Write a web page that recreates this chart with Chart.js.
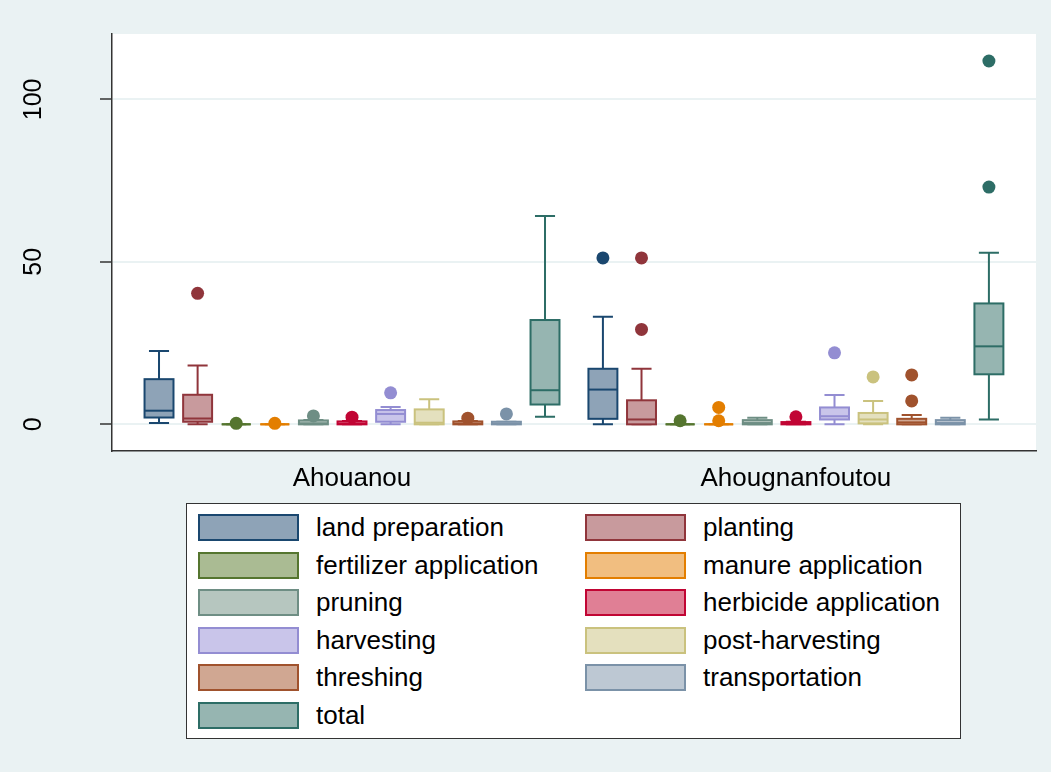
<!DOCTYPE html>
<html>
<head>
<meta charset="utf-8">
<script src="https://cdn.jsdelivr.net/npm/chart.js@4/dist/chart.umd.min.js"></script>
<style>
  html, body { margin: 0; padding: 0; background: #eaf2f3; }
  #wrap { position: relative; width: 1051px; height: 772px; }
  #legend {
    position: absolute; left: 186px; top: 503px; width: 775px; height: 236px;
    box-sizing: border-box; background: #fff; border: 1.5px solid #333;
    font-family: 'Liberation Sans', Arial, sans-serif; font-size: 26px; color: #000;
  }
  .item { position: absolute; height: 27px; white-space: nowrap; }
  .swatch { position: absolute; left: 0; top: 0; width: 101px; height: 27px; box-sizing: border-box; border: 2px solid; }
  .label { position: absolute; left: 118px; top: -1px; line-height: 29px; }
</style>
</head>
<body>
<div id="wrap">
  <canvas id="boxChart"></canvas>
  <div id="legend"></div>
</div>
<script>
// categories
const groups = ['Ahouanou', 'Ahougnanfoutou'];
const series = ['land preparation', 'planting', 'fertilizer application', 'manure application',
  'pruning', 'herbicide application', 'harvesting', 'post-harvesting', 'threshing',
  'transportation', 'total'];

// box statistics, Ahouanou
const ahouanouLow    = [0.4, 0,   0, 0, 0,   0,   0,   0,   0,   0,   2.3];
const ahouanouQ1     = [2.1, 0.8, 0, 0, 0,   0,   0.8, 0,   0,   0,   6.1];
const ahouanouMedian = [4.2, 1.8, 0, 0, 0.3, 0.2, 3.2, 0.5, 0.2, 0.2, 10.5];
const ahouanouQ3     = [13.9, 9.1, 0, 0, 1.2, 0.9, 4.4, 4.6, 0.9, 0.8, 32.1];
const ahouanouHigh   = [22.6, 18.1, 0, 0, 1.3, 1.0, 5.3, 7.7, 1.0, 0.8, 64.1];
const ahouanouOutliers = [[], [40.3], [0.3], [0.3], [2.6], [2.2], [9.7], [], [1.9], [3.2], []];

// box statistics, Ahougnanfoutou
const ahougLow    = [0,    0,    0, 0, 0,   0,   0,   0,   0,   0,   1.5];
const ahougQ1     = [1.7,  0,    0, 0, 0,   0,   1.5, 0.3, 0,   0,   15.4];
const ahougMedian = [10.7, 1.5,  0, 0, 0.4, 0.2, 2.5, 1.5, 0.6, 0.4, 24.0];
const ahougQ3     = [17.1, 7.4,  0, 0, 1.3, 0.7, 5.2, 3.5, 1.7, 1.3, 37.2];
const ahougHigh   = [33.1, 17.1, 0, 0, 2.0, 0.8, 9.0, 7.2, 2.9, 2.0, 52.8];
const ahougOutliers = [[51.2], [51.2, 29.2], [1.1], [5.2, 1.1], [], [2.3], [22.0], [14.6], [15.2, 7.2], [], [111.8, 73.0]];

const yTicks = [0, 50, 100];

// colours (Stata s2color)
const lineColors = ['#1a476f', '#90353b', '#55752f', '#e37e00', '#6e8e84', '#c10534',
  '#938dd2', '#cac27e', '#a0522d', '#7b92a8', '#2d6d66'];
const fillColors = ['#8ea3b7', '#c89a9d', '#aabb93', '#f1be80', '#b6c6bf', '#e07f95',
  '#c9c5ea', '#e4e0be', '#d0a792', '#bdc8d3', '#96b5b1'];

const stats = [
  { low: ahouanouLow, q1: ahouanouQ1, med: ahouanouMedian, q3: ahouanouQ3, high: ahouanouHigh, out: ahouanouOutliers },
  { low: ahougLow, q1: ahougQ1, med: ahougMedian, q3: ahougQ3, high: ahougHigh, out: ahougOutliers }
];

const GROUP_STEP = 11.5;   // x units between the first boxes of the two groups
const BOX_HALF = 0.375;
const CAP_HALF = 0.26;
const xPos = (g, s) => g * GROUP_STEP + s;

// outlier points, one dataset per series
const datasets = series.map((name, s) => ({
  label: name,
  data: stats.flatMap((st, g) => st.out[s].map(v => ({ x: xPos(g, s), y: v }))),
  backgroundColor: lineColors[s],
  borderWidth: 0,
  pointRadius: 6.5,
  pointHoverRadius: 6.5
}));

const plotBackground = {
  id: 'plotBackground',
  beforeDraw(chart) {
    const { ctx, chartArea: a } = chart;
    ctx.save();
    ctx.fillStyle = '#ffffff';
    ctx.fillRect(a.left, a.top, a.right - a.left, a.bottom - a.top);
    ctx.restore();
  }
};

const boxes = {
  id: 'boxes',
  beforeDatasetsDraw(chart) {
    const { ctx, scales: { x, y } } = chart;
    ctx.save();
    ctx.lineWidth = 2;
    stats.forEach((st, g) => {
      series.forEach((name, s) => {
        const c = xPos(g, s);
        const cx = x.getPixelForValue(c);
        const bl = x.getPixelForValue(c - BOX_HALF), br = x.getPixelForValue(c + BOX_HALF);
        const cl = x.getPixelForValue(c - CAP_HALF), cr = x.getPixelForValue(c + CAP_HALF);
        const yLow = y.getPixelForValue(st.low[s]), yHigh = y.getPixelForValue(st.high[s]);
        const yQ1 = y.getPixelForValue(st.q1[s]), yQ3 = y.getPixelForValue(st.q3[s]);
        const yMed = y.getPixelForValue(st.med[s]);
        ctx.strokeStyle = lineColors[s];
        // whiskers and caps
        ctx.beginPath();
        ctx.moveTo(cx, yHigh); ctx.lineTo(cx, yQ3);
        ctx.moveTo(cx, yQ1); ctx.lineTo(cx, yLow);
        ctx.moveTo(cl, yHigh); ctx.lineTo(cr, yHigh);
        ctx.moveTo(cl, yLow); ctx.lineTo(cr, yLow);
        ctx.stroke();
        // box
        ctx.fillStyle = fillColors[s];
        ctx.fillRect(bl, yQ3, br - bl, yQ1 - yQ3);
        ctx.strokeRect(bl, yQ3, br - bl, yQ1 - yQ3);
        // median
        ctx.beginPath();
        ctx.moveTo(bl, yMed); ctx.lineTo(br, yMed);
        ctx.stroke();
      });
    });
    ctx.restore();
  }
};

const font = { family: "'Liberation Sans', Arial, sans-serif" };

new Chart(document.getElementById('boxChart'), {
  type: 'scatter',
  data: { datasets },
  options: {
    responsive: true,
    maintainAspectRatio: false,
    animation: false,
    layout: { padding: { left: 0, top: 34, right: 15, bottom: 271 } },
    plugins: {
      legend: { display: false },
      tooltip: { enabled: false }
    },
    scales: {
      x: {
        type: 'linear',
        min: -1.218,
        max: 22.72,
        afterBuildTicks: s => { s.ticks = groups.map((g, i) => ({ value: 5 + i * GROUP_STEP })); },
        afterFit: s => { s.height = 50; s.paddingLeft = 0; s.paddingRight = 0; },
        grid: { display: false, drawTicks: false },
        border: { display: true, color: '#333', width: 1.5 },
        ticks: {
          padding: 12,
          color: '#000',
          font: { ...font, size: 26 },
          maxRotation: 0,
          callback: (v, i) => groups[i]
        }
      },
      y: {
        type: 'linear',
        min: -8.2,
        max: 120.1,
        afterBuildTicks: s => { s.ticks = yTicks.map(v => ({ value: v })); },
        afterFit: s => { s.width = 112; s.paddingTop = 0; s.paddingBottom = 0; },
        grid: { color: '#eaf2f3', lineWidth: 2, drawTicks: true, tickLength: 12, tickColor: '#333', tickWidth: 1.5 },
        border: { display: true, color: '#333', width: 1.5 },
        ticks: {
          color: '#000',
          font: { ...font, size: 25 },
          minRotation: 90,
          maxRotation: 90,
          crossAlign: 'center',
          padding: 45
        }
      }
    }
  },
  plugins: [plotBackground, boxes]
});

// legend, two columns filled row by row
const legend = document.getElementById('legend');
series.forEach((name, s) => {
  const item = document.createElement('div');
  item.className = 'item';
  item.style.left = (11 + (s % 2) * 387) + 'px';
  item.style.top = (10 + Math.floor(s / 2) * 37.6) + 'px';
  const sw = document.createElement('div');
  sw.className = 'swatch';
  sw.style.background = fillColors[s];
  sw.style.borderColor = lineColors[s];
  const lb = document.createElement('div');
  lb.className = 'label';
  lb.textContent = name;
  item.appendChild(sw);
  item.appendChild(lb);
  legend.appendChild(item);
});
</script>
</body>
</html>
